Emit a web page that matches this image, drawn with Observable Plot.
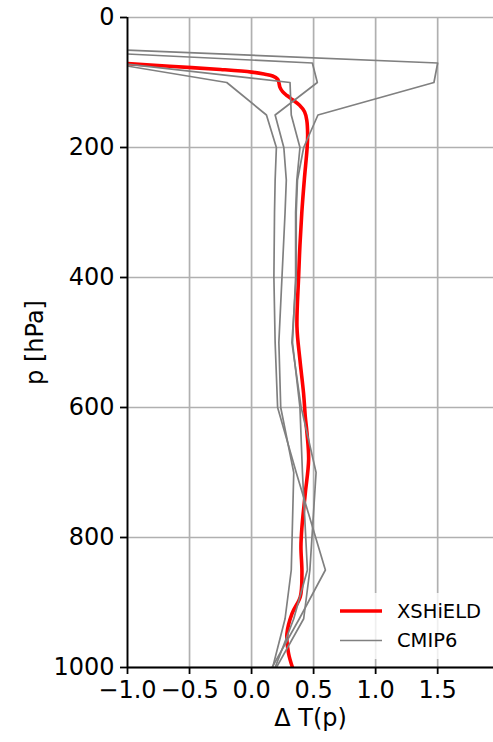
<!DOCTYPE html>
<html>
<head>
<meta charset="utf-8">
<script src="https://cdn.jsdelivr.net/npm/d3@7"></script>
<script src="https://cdn.jsdelivr.net/npm/@observablehq/plot@0.6"></script>
<style>
  html, body { margin: 0; padding: 0; background: white; }
  #chart { width: 493px; height: 742px; }
</style>
</head>
<body>
<div id="chart"></div>
<script>
// ---- data ----
const xTicks = [-1.0, -0.5, 0.0, 0.5, 1.0, 1.5];
const yTicks = [0, 200, 400, 600, 800, 1000];

// CMIP6 standard pressure levels (hPa)
const levels = [50, 70, 100, 150, 200, 250, 300, 400, 500, 600, 700, 850, 925, 1000];
const cmipA = [-1.02, 1.50, 1.47, 0.535, 0.42, 0.37, 0.36, 0.36, 0.325, 0.40, 0.52, 0.47, 0.42, 0.20];
const cmipB = [-1.67, 0.49, 0.53, 0.19, 0.26, 0.28, 0.27, 0.245, 0.22, 0.235, 0.34, 0.32, 0.27, 0.17];
const cmipC = [-2.00, -1.15, -0.20, 0.12, 0.20, 0.19, 0.185, 0.18, 0.19, 0.21, 0.36, 0.595, 0.385, 0.165];
const cmipD = [-2.00, -1.08, 0.31, 0.32, 0.39, 0.365, 0.355, 0.355, 0.33, 0.39, 0.41, 0.45, 0.34, 0.19];

// XSHiELD profile (p hPa, delta T)
const xsP = [69, 71, 75, 80, 84, 87, 90, 95, 100, 107, 114, 120, 127, 135, 145, 158, 180, 200, 250, 300, 350, 400, 476, 527, 578, 614, 640, 680, 732, 784, 814, 855, 891, 917, 948, 978, 1000];
const xsT = [-1.25, -1.0, -0.66, -0.25, 0.0, 0.1, 0.17, 0.21, 0.22, 0.228, 0.25, 0.285, 0.334, 0.387, 0.427, 0.445, 0.452, 0.448, 0.425, 0.405, 0.39, 0.379, 0.366, 0.39, 0.419, 0.433, 0.447, 0.46, 0.433, 0.406, 0.398, 0.406, 0.393, 0.326, 0.285, 0.298, 0.33];

const seriesNames = ["XSHiELD", "CMIP6"];

// ---- tables ----
const redRows = xsP.map((p, i) => ({p, t: xsT[i]}));
const grayRows = [];
[cmipA, cmipB, cmipC, cmipD].forEach((arr, k) => {
  levels.forEach((p, i) => grayRows.push({model: k, p, t: arr[i]}));
});

const fmtX = d => (d < 0 ? "\u2212" : "") + Math.abs(d).toFixed(1);

const chart = Plot.plot({
  width: 493,
  height: 742,
  marginLeft: 127,
  marginRight: 0,
  marginTop: 17,
  marginBottom: 75,
  style: {fontFamily: "DejaVu Sans", background: "white", color: "black", overflow: "visible"},
  x: {domain: [-1, 1.95]},
  y: {domain: [0, 1000], reverse: true},
  marks: [
    Plot.gridX(xTicks, {stroke: "#b0b0b0", strokeOpacity: 1, strokeWidth: 1.7}),
    Plot.gridY(yTicks, {stroke: "#b0b0b0", strokeOpacity: 1, strokeWidth: 1.7}),
    Plot.line(redRows, {x: "t", y: "p", stroke: "red", strokeWidth: 3.6, curve: "catmull-rom", clip: true}),
    Plot.line(grayRows, {x: "t", y: "p", z: "model", stroke: "gray", strokeWidth: 1.7, clip: true}),
    Plot.ruleX([-1], {stroke: "black", strokeWidth: 1.8}),
    Plot.ruleY([1000], {stroke: "black", strokeWidth: 1.8}),
    Plot.axisX(xTicks, {tickSize: 7, tickPadding: 6, fontSize: 24, tickFormat: fmtX, label: null, strokeWidth: 1.8}),
    Plot.axisY(yTicks, {tickSize: 7, tickPadding: 6, fontSize: 24, tickFormat: d => String(d), label: null, strokeWidth: 1.8}),
    Plot.text(["\u0394 T(p)"], {frameAnchor: "bottom", dy: 51, lineAnchor: "middle", textAnchor: "middle", fontSize: 24, fill: "black"}),
    Plot.text(["p [hPa]"], {frameAnchor: "left", dx: -92, rotate: -90, lineAnchor: "middle", textAnchor: "middle", fontSize: 24, fill: "black"})
  ]
});

// legend (lower right inside frame)
const svg = d3.select(chart);
const xs = chart.scale("x"), ys = chart.scale("y");
const right = xs.apply(1.95), bottom = ys.apply(1000);
const boxW = 153, boxH = 66;
const bx = right - 8 - boxW, by = bottom - 8 - boxH;
const g = svg.append("g").attr("font-family", "DejaVu Sans").attr("text-anchor", "start");
g.append("rect").attr("x", bx).attr("y", by).attr("width", boxW).attr("height", boxH)
  .attr("rx", 3).attr("fill", "white").attr("fill-opacity", 0.8).attr("stroke", "none");
const entries = [
  {name: seriesNames[0], color: "red", w: 3.6},
  {name: seriesNames[1], color: "gray", w: 1.7}
];
entries.forEach((e, i) => {
  const cy = by + 18 + i * 29.5;
  g.append("line").attr("x1", bx + 8).attr("x2", bx + 50).attr("y1", cy).attr("y2", cy)
    .attr("stroke", e.color).attr("stroke-width", e.w);
  g.append("text").attr("x", bx + 65).attr("y", cy).attr("dy", "0.35em")
    .attr("text-anchor", "start")
    .attr("font-size", 19.5).attr("fill", "black").text(e.name);
});

document.getElementById("chart").appendChild(chart);
</script>
</body>
</html>
